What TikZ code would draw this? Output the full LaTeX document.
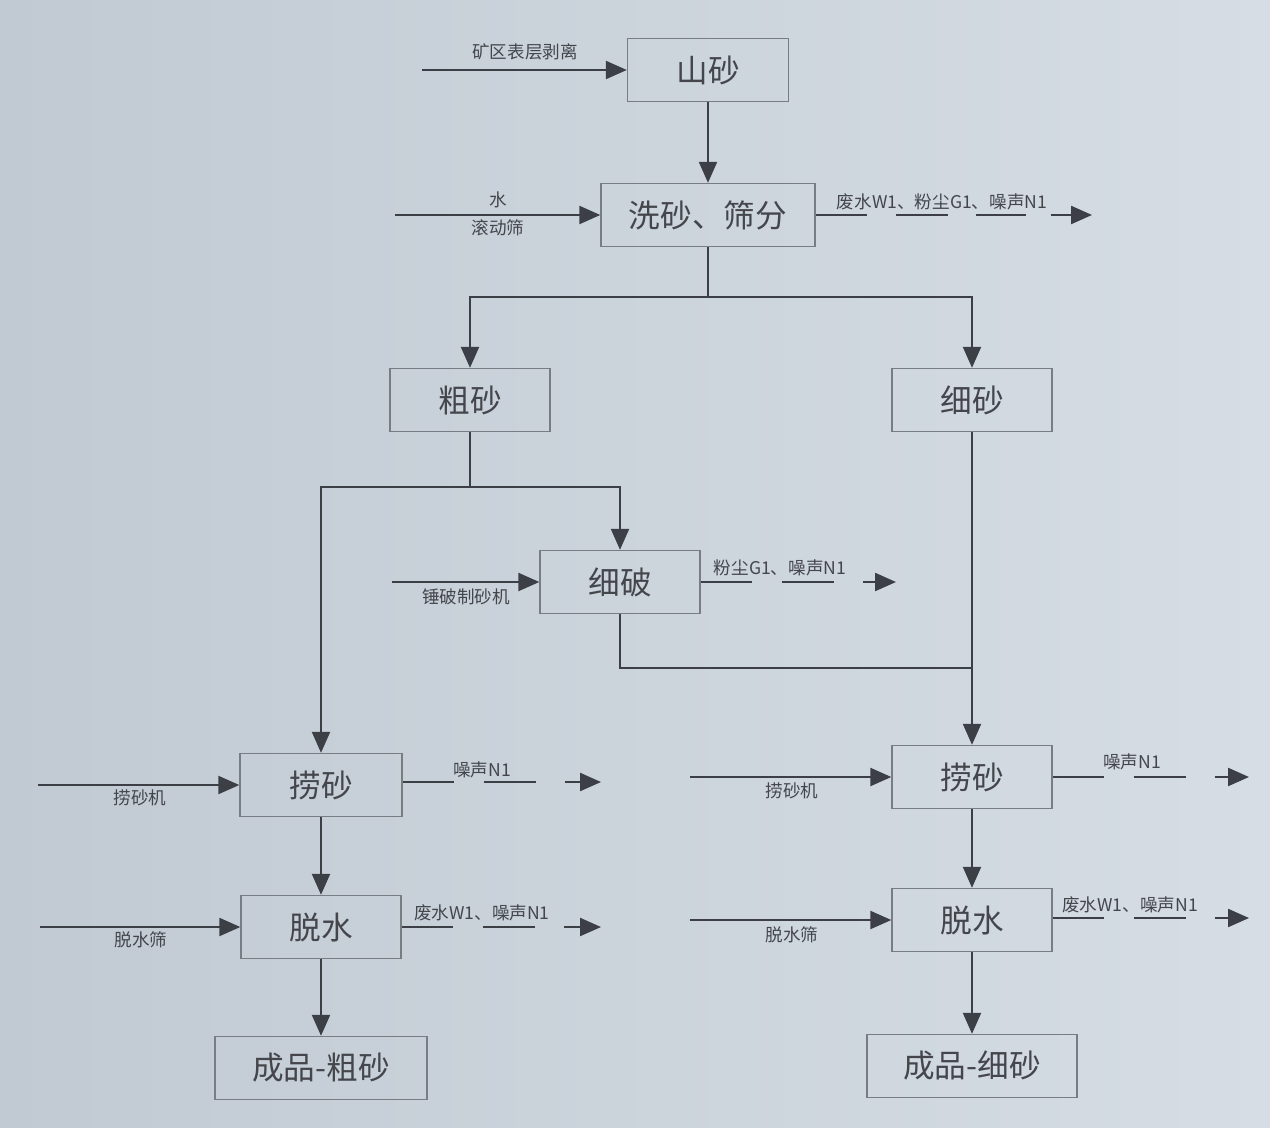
\documentclass[tikz,border=0pt]{standalone}
\usepackage{xcolor}
\usepackage{fontspec}
\newfontfamily\cjk{Noto Sans CJK SC}
\usetikzlibrary{arrows.meta,positioning}
\definecolor{paperL}{RGB}{193,202,211}
\definecolor{paperR}{RGB}{214,221,228}
\definecolor{inkLine}{RGB}{60,64,70}
\definecolor{inkBox}{RGB}{120,125,132}
\definecolor{inkText}{RGB}{68,70,76}

\begin{document}
\begin{tikzpicture}[x=0.02cm,y=-0.02cm,
    box/.style={draw=inkBox,line width=0.8pt,minimum width=3.2cm,minimum height=1.26cm,
                inner sep=0pt,font=\cjk\fontsize{18}{20}\selectfont,text=inkText},
    lbl/.style={font=\cjk\fontsize{10}{12}\selectfont,text=inkText,inner sep=1pt},
    arr/.style={-{Triangle[length=0.42cm,width=0.36cm]},inkLine,line width=1.3pt},
    ln/.style={inkLine,line width=1.3pt},
    outl/.style={arr,dash pattern=on 1.02cm off 0.6cm on 1.04cm off 0.58cm on 3cm},
    outw/.style={arr,dash pattern=on 1.02cm off 0.58cm on 1.04cm off 0.56cm on 1cm off 0.5cm on 3cm}
  ]
    \useasboundingbox (0,0) rectangle (1270,1128);
    \shade[left color=paperL,right color=paperR] (0,0) rectangle (1270,1128);

    % main boxes
    \node[box,minimum width=3.22cm] (A) at (708,70) {山砂};
    \node[box,minimum width=4.28cm] (B) at (708,215) {洗砂、筛分};
    \node[box] (C) at (470,400) {粗砂};
    \node[box] (D) at (972,400) {细砂};
    \node[box] (E) at (620,582) {细破};
    \node[box,minimum width=3.24cm] (F1) at (321,785) {捞砂};
    \node[box] (H1) at (321,927) {脱水};
    \node[box,minimum width=4.24cm] (K1) at (321,1068) {成品-粗砂};
    \node[box] (F2) at (972,777) {捞砂};
    \node[box] (H2) at (972,920) {脱水};
    \node[box,minimum width=4.2cm] (K2) at (972,1066) {成品-细砂};

    % inputs
    \coordinate (inA) at (422,70);
    \coordinate (inB) at (395,215);
    \coordinate (inE) at (392,582);
    \coordinate (inF1) at (38,785);
    \coordinate (inH1) at (40,927);
    \coordinate (inF2) at (690,777);
    \coordinate (inH2) at (690,920);
    \draw[arr] (inA) -- (A); \draw[arr] (inB) -- (B); \draw[arr] (inE) -- (E);
    \draw[arr] (inF1) -- (F1); \draw[arr] (inH1) -- (H1);
    \draw[arr] (inF2) -- (F2); \draw[arr] (inH2) -- (H2);
    \node[lbl] (tA) at (525,52) {矿区表层剥离};
    \node[lbl] (tB1) at (498,200) {水};
    \node[lbl] (tB2) at (498,228) {滚动筛};
    \node[lbl] (tE) at (466,597) {锤破制砂机};
    \node[lbl] (tF1) at (140,798) {捞砂机};
    \node[lbl] (tH1) at (141,940) {脱水筛};
    \node[lbl] (tF2) at (792,791) {捞砂机};
    \node[lbl] (tH2) at (792,935) {脱水筛};

    % outputs
    \coordinate (outB) at (1092,215);
    \coordinate (outE) at (896,582);
    \coordinate (outF1) at (601,782);
    \coordinate (outH1) at (601,927);
    \coordinate (outF2) at (1249,777);
    \coordinate (outH2) at (1249,918);
    \draw[outw] (B) -- (outB);
    \draw[outl] (E) -- (outE);
    \draw[outl] (F1.east |- outF1) -- (outF1);
    \draw[outl] (H1) -- (outH1);
    \draw[outl] (F2) -- (outF2);
    \draw[outl] (H2.east |- outH2) -- (outH2);
    \node[lbl] (tB) at (942,202) {废水W1、粉尘G1、噪声N1};
    \node[lbl] (tE2) at (780,568) {粉尘G1、噪声N1};
    \node[lbl] (tF1o) at (482,770) {噪声N1};
    \node[lbl] (tH1o) at (482,913) {废水W1、噪声N1};
    \node[lbl] (tF2o) at (1132,762) {噪声N1};
    \node[lbl] (tH2o) at (1130,905) {废水W1、噪声N1};

    % flow
    \draw[arr] (A) -- (B);
    \coordinate (jB) at (708,297);
    \draw[ln] (B) -- (jB);
    \draw[arr] (jB) -| (C); \draw[arr] (jB) -| (D);
    \coordinate (jC) at (470,487);
    \draw[ln] (C) -- (jC);
    \draw[arr] (jC) -| (F1); \draw[arr] (jC) -| (E);
    \coordinate (jE) at (620,668);
    \draw[ln] (E) -- (jE) -- (D.south |- jE);
    \draw[arr] (D) -- (F2);
    \draw[arr] (F1) -- (H1); \draw[arr] (H1) -- (K1);
    \draw[arr] (F2) -- (H2); \draw[arr] (H2) -- (K2);
  \end{tikzpicture}
\end{document}
